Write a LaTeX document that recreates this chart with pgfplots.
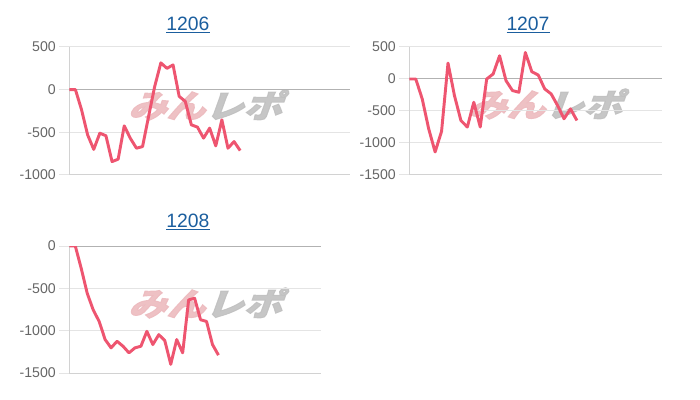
\documentclass[border=0pt]{standalone}
\usepackage{fontspec}
\setmainfont{Liberation Sans}
\newfontfamily\cjk[FakeSlant=0.3,FakeBold=3]{Noto Sans CJK JP}
\usepackage{pgfplots}
\pgfplotsset{compat=1.18}

\definecolor{linecol}{RGB}{238,85,112}
\definecolor{gridgray}{RGB}{228,228,228}
\definecolor{axgray}{RGB}{210,210,210}
\definecolor{zerogray}{RGB}{178,178,178}
\definecolor{tickgray}{RGB}{102,102,102}
\definecolor{titleblue}{RGB}{27,94,158}
\definecolor{wmpink}{RGB}{236,186,190}
\definecolor{wmgray}{RGB}{192,192,192}

\pgfplotsset{
  panel/.style={
    scale only axis, anchor=south west,
    axis x line*=bottom, axis y line*=left,
    axis line style={draw=axgray, line width=0.75pt, -},
    xtick=\empty, xmin=0,
    ymajorgrids, grid style={draw=gridgray, line width=0.75pt},
    tick align=outside, major tick length=7.5pt,
    ytick style={draw=gridgray, line width=0.75pt},
    yticklabel style={font=\fontsize{10.6}{12}\selectfont, text=tickgray, inner sep=2.5pt},
    /pgf/number format/assume math mode=true,
    /pgf/number format/1000 sep={},
  },
  series/.style={draw=linecol, line width=2.2pt, line join=round, no markers},
}
\newcommand{\zeroline}{\draw[zerogray, line width=0.75pt]
  ({rel axis cs:0,0}|-{axis cs:0,0}) -- ({rel axis cs:1,0}|-{axis cs:0,0});}
\newcommand{\wm}{{\cjk\bfseries\fontsize{24}{24}\selectfont\textcolor{wmpink}{みん}\textcolor{wmgray}{レポ}}}

\begin{document}
\begin{tikzpicture}
\path[use as bounding box] (0,0) rectangle (525pt,300pt);

% watermarks
\node[xscale=1.2, opacity=0.9] at (153.75pt,221.25pt) {\wm};
\node[xscale=1.2, opacity=0.9] at (408.75pt,222pt) {\wm};
\node[xscale=1.2, opacity=0.9] at (153.75pt,72.75pt) {\wm};

% titles
\node[text=titleblue, font=\fontsize{14.5}{16}\selectfont] at (141pt,281.25pt) {\underline{1206}};
\node[text=titleblue, font=\fontsize{14.5}{16}\selectfont] at (396pt,281.25pt) {\underline{1207}};
\node[text=titleblue, font=\fontsize{14.5}{16}\selectfont] at (141pt,133.5pt) {\underline{1208}};

% 1206
\begin{axis}[panel, at={(52pt,168.75pt)}, width=210.5pt, height=96pt,
  xmax=46, ymin=-1000, ymax=500, ytick={-1000,-500,0,500}]
\zeroline
\addplot[series] coordinates {
  (0,0) (1,0) (2,-235) (3,-530) (4,-700) (5,-510) (6,-540) (7,-843)
  (8,-815) (9,-424) (10,-570) (11,-686) (12,-667) (13,-310) (14,40)
  (15,314) (16,250) (17,290) (18,-78) (19,-137) (20,-412) (21,-439)
  (22,-568) (23,-451) (24,-659) (25,-353) (26,-686) (27,-608) (28,-714)
};
\end{axis}

% 1207
\begin{axis}[panel, at={(307pt,168.75pt)}, width=189.5pt, height=96pt,
  xmax=39.2, ymin=-1500, ymax=500, ytick={-1500,-1000,-500,0,500}]
\zeroline
\addplot[series] coordinates {
  (0,0) (1,0) (2,-311) (3,-777) (4,-1140) (5,-818) (6,249) (7,-259)
  (8,-648) (9,-751) (10,-363) (11,-751) (12,0) (13,78) (14,363)
  (15,-26) (16,-181) (17,-207) (18,414) (19,114) (20,62) (21,-155)
  (22,-233) (23,-414) (24,-622) (25,-466) (26,-648)
};
\end{axis}

% 1208
\begin{axis}[panel, at={(52pt,20.25pt)}, width=188.8pt, height=95.25pt,
  xmax=42.2, ymin=-1500, ymax=0, ytick={-1500,-1000,-500,0}]
\zeroline
\addplot[series] coordinates {
  (0,0) (1,0) (2,-266) (3,-559) (4,-754) (5,-891) (6,-1105) (7,-1203)
  (8,-1125) (9,-1184) (10,-1262) (11,-1203) (12,-1184) (13,-1008)
  (14,-1164) (15,-1047) (16,-1117) (17,-1398) (18,-1105) (19,-1262)
  (20,-637) (21,-617) (22,-871) (23,-891) (24,-1164) (25,-1289)
};
\end{axis}
\end{tikzpicture}
\end{document}
